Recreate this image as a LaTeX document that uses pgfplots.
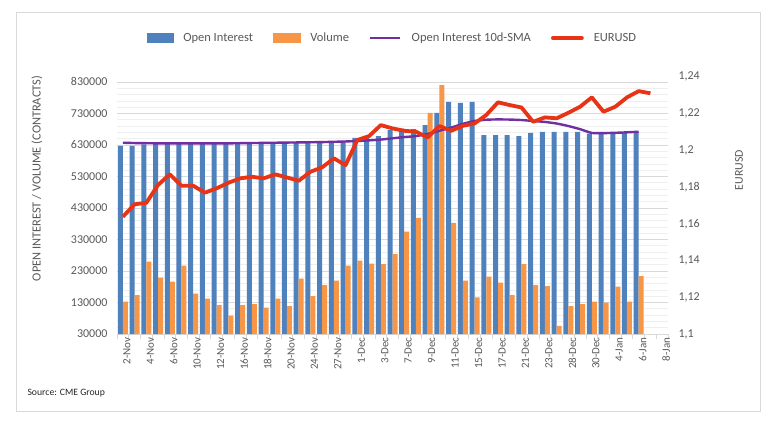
\documentclass[border=0pt]{standalone}
\usepackage{pgfplots}
\pgfplotsset{compat=1.18}
\usepackage{pgfplotstable}
\usepackage{fontspec}
\setmainfont{Carlito}
\definecolor{oiblue}{HTML}{4F81BD}
\definecolor{volorange}{HTML}{F79646}
\definecolor{smapurple}{HTML}{7030A0}
\definecolor{eurred}{RGB}{232,52,22}
\definecolor{txtgrey}{HTML}{595959}
\definecolor{gridgrey}{HTML}{D9D9D9}
\definecolor{minorgrey}{HTML}{EFEFEF}

\pgfplotstableread{
i OI Vol SMA
0 627100 132500 637000
1 627100 153700 636000
2 631400 259300 635500
3 632400 208600 635000
4 632400 195900 635000
5 632400 246600 635000
6 632400 157900 635000
7 632400 142000 635000
8 632400 121900 635000
9 632400 88100 635000
10 633500 121900 635500
11 633500 125100 636000
12 634500 113500 636500
13 634500 142000 637000
14 634500 118800 637500
15 635600 205400 638000
16 635600 150500 638500
17 636600 185400 639000
18 637700 199100 640000
19 639800 246600 641000
20 652500 262500 642500
21 652500 253000 644500
22 657800 251900 647000
23 676800 283600 651000
24 682100 354500 655000
25 680000 398800 658000
26 692700 731700 665000
27 731700 819500 675000
28 766600 383000 685000
29 763400 199100 697000
30 766600 146300 706000
31 660900 211800 710000
32 660900 192700 711000
33 660900 153700 710500
34 657800 251900 709000
35 668300 185400 706000
36 671500 182200 703000
37 671500 55400 698000
38 671500 118800 690000
39 671500 125100 680000
40 666200 132500 668000
41 666200 129300 667500
42 666200 180100 668500
43 668300 132500 670000
44 671500 213900 672000
}\oitable

\pgfplotstableread{
i EUR
0 1.1638
1 1.1706
2 1.1714
3 1.1811
4 1.1869
5 1.1807
6 1.1807
7 1.1769
8 1.1793
9 1.1823
10 1.1847
11 1.1856
12 1.1847
13 1.1869
14 1.1852
15 1.1834
16 1.1883
17 1.1907
18 1.1956
19 1.1919
20 1.2056
21 1.2077
22 1.2137
23 1.2119
24 1.2106
25 1.2101
26 1.2070
27 1.2132
28 1.2106
29 1.2133
30 1.2146
31 1.2192
32 1.2261
33 1.2246
34 1.2233
35 1.2155
36 1.2179
37 1.2174
38 1.2204
39 1.2237
40 1.2288
41 1.2210
42 1.2237
43 1.2288
44 1.2322
45 1.2310
}\eurtable

\begin{document}
\begin{tikzpicture}
\fill[white] (0pt,0pt) rectangle (783pt,426pt);
\useasboundingbox (0pt,0pt) rectangle (783pt,426pt);
\draw[gridgrey, line width=0.75pt] (16.5pt,15pt) rectangle (760.5pt,414pt);
\node[anchor=west, font=\fontsize{9.7}{11}\selectfont, text=black!85] at (24pt,33pt) {Source: CME Group};

\begin{axis}[
  at={(117pt,92pt)}, anchor=south west,
  scale only axis, width=551pt, height=271pt,
  xmin=-0.5, xmax=46.5,
  ymin=30000, ymax=890000,
  axis x line*=bottom, axis y line*=left,
  x axis line style={gridgrey, line width=0.75pt, -},
  y axis line style={draw=none},
  xtick={0,2,...,46},
  xticklabels={2-Nov,4-Nov,6-Nov,10-Nov,12-Nov,16-Nov,18-Nov,20-Nov,24-Nov,27-Nov,1-Dec,3-Dec,7-Dec,9-Dec,11-Dec,15-Dec,17-Dec,21-Dec,23-Dec,28-Dec,30-Dec,4-Jan,6-Jan,8-Jan},
  minor xtick={-0.5,0.5,...,46.5},
  xtick style={gridgrey, line width=0.75pt},
  tick align=outside,
  major tick length=0pt,
  minor tick length=5pt,
  xticklabel style={rotate=90, anchor=east, font=\fontsize{11}{12}\selectfont, text=txtgrey, yshift=-4pt},
  ytick={30000,130000,230000,330000,430000,530000,630000,730000,830000},
  minor y tick num=4,
  ytick style={draw=none},
  ymajorgrids, yminorgrids,
  major grid style={gridgrey, line width=0.75pt},
  minor grid style={minorgrey, line width=0.6pt},
  scaled y ticks=false,
  yticklabel style={/pgf/number format/fixed, /pgf/number format/1000 sep={}, font=\fontsize{12}{13}\selectfont, text=txtgrey, xshift=-6pt},
  /pgf/number format/assume math mode=true,
  every axis y label/.style={at={(axis description cs:-0.1452,0.574)}, anchor=center, rotate=90, font=\fontsize{12.4}{13}\selectfont, text=txtgrey},
  ylabel={OPEN INTEREST / VOLUME (CONTRACTS)},
]
\addplot[ybar, bar width=5pt, bar shift=-2.5pt, fill=oiblue, draw=none] table[x=i, y=OI] {\oitable};
\addplot[ybar, bar width=5pt, bar shift=2.5pt, fill=volorange, draw=none] table[x=i, y=Vol] {\oitable};
\addplot[smapurple, line width=2.4pt, smooth, tension=0.3, no marks] table[x=i, y=SMA] {\oitable};
\end{axis}

\begin{axis}[
  at={(117pt,92pt)}, anchor=south west,
  scale only axis, width=551pt, height=271pt,
  xmin=-0.5, xmax=46.5,
  ymin=1.1, ymax=1.2475,
  axis x line=none, axis y line*=right,
  y axis line style={draw=none},
  ytick={1.1,1.12,1.14,1.16,1.18,1.2,1.22,1.24},
  ytick style={draw=none},
  yticklabel style={/pgf/number format/use comma, /pgf/number format/precision=2, font=\fontsize{12}{13}\selectfont, text=txtgrey, xshift=7pt},
  /pgf/number format/assume math mode=true,
  every axis y label/.style={at={(axis description cs:1.1289,0.605)}, anchor=center, rotate=90, font=\fontsize{11.9}{13}\selectfont, text=txtgrey},
  ylabel={EURUSD},
  legend columns=4,
  legend style={at={(axis description cs:0.5,1.092)}, anchor=center, draw=none, fill=none,
    font=\fontsize{12.5}{13}\selectfont, text=txtgrey,
    /tikz/every odd column/.append style={column sep=8pt},
    /tikz/every even column/.append style={column sep=18pt}},
]
\addlegendimage{legend image code/.code={\fill[oiblue] (0pt,-4.5pt) rectangle (26pt,4.5pt);}}
\addlegendentry{Open Interest}
\addlegendimage{legend image code/.code={\fill[volorange] (0pt,-4.5pt) rectangle (27pt,4.5pt);}}
\addlegendentry{Volume}
\addlegendimage{legend image code/.code={\draw[smapurple, line width=2.6pt] (0pt,0pt) -- (30pt,0pt);}}
\addlegendentry{Open Interest 10d-SMA}
\addplot[eurred, line width=3.8pt, line join=round, no marks,
  legend image code/.code={\draw[eurred, line width=3.8pt, line cap=round] (1pt,0pt) -- (30pt,0pt);}] table[x=i, y=EUR] {\eurtable};
\addlegendentry{EURUSD}
\end{axis}
\end{tikzpicture}
\end{document}
